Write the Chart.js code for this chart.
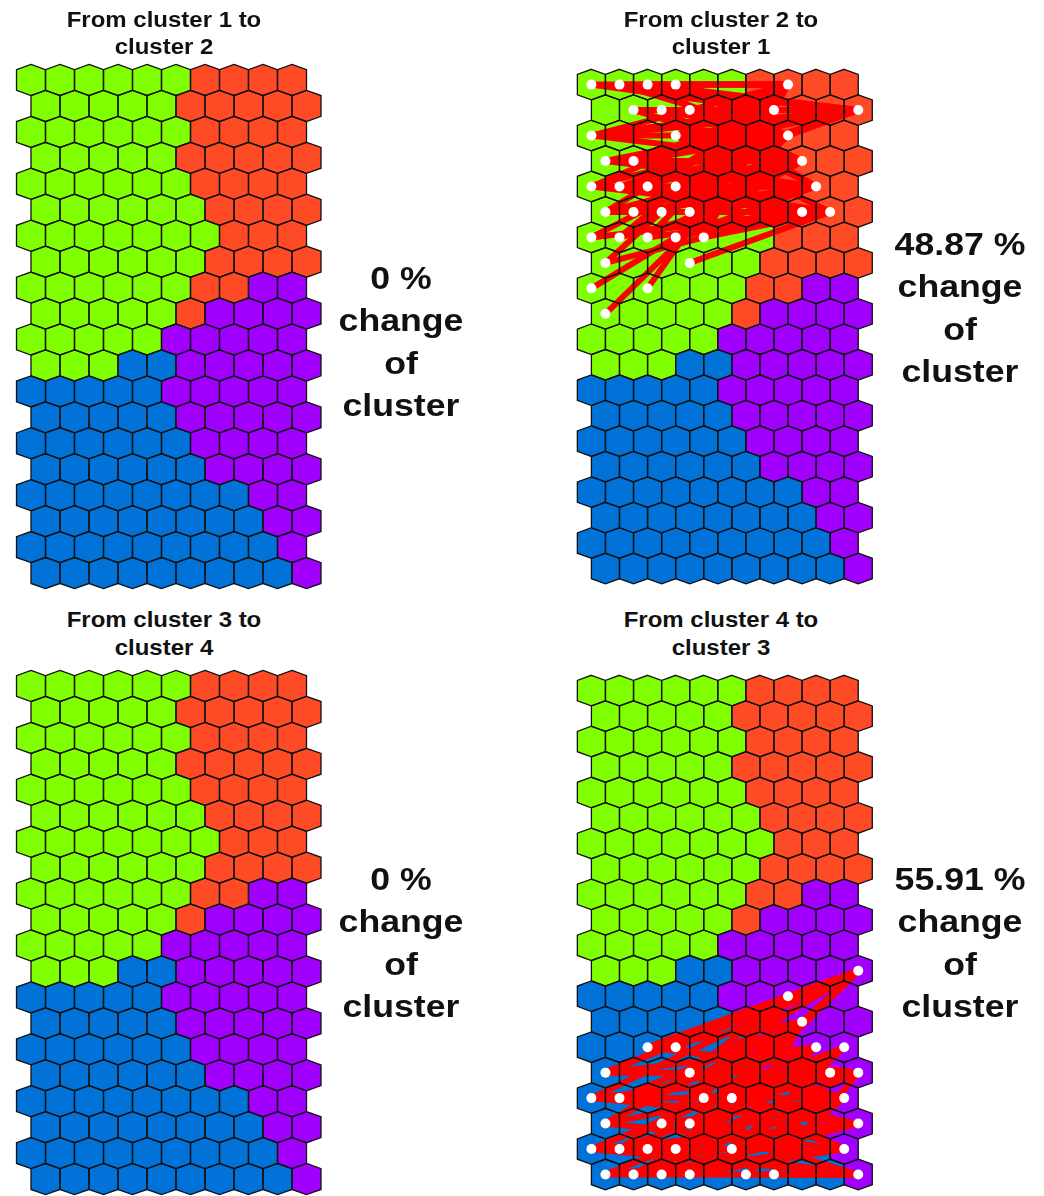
<!DOCTYPE html>
<html>
<head>
<meta charset="utf-8">
<script src="https://cdn.jsdelivr.net/npm/chart.js@4.4.0/dist/chart.umd.min.js"></script>
<style>
  html, body { margin: 0; padding: 0; background: #ffffff; }
  body { width: 1044px; height: 1196px; position: relative; overflow: hidden;
         font-family: "Liberation Sans", Arial, Helvetica, sans-serif; }
  .panel { position: absolute; }
  .txt { position: absolute; width: 400px; text-align: center; font-weight: bold;
         color: #111; white-space: pre; transform-origin: 50% 50%; }
  .title { font-size: 22px; line-height: 27.5px; transform: scaleX(1.09); }
  .side { font-size: 31px; line-height: 42.5px; transform: scaleX(1.15); }
</style>
</head>
<body>
<script>
// ---------------- DATA ----------------
// Cluster of every SOM node, row by row (10 columns x 20 rows, hexagonal, odd rows shifted right)
// G = cluster 1 (green), R = cluster 2 (red), P = cluster 3 (purple), B = cluster 4 (blue)
const clusterRows = [
  "GGGGGGRRRR",
  "GGGGGRRRRR",
  "GGGGGGRRRR",
  "GGGGGRRRRR",
  "GGGGGGRRRR",
  "GGGGGGRRRR",
  "GGGGGGGRRR",
  "GGGGGGRRRR",
  "GGGGGGRRPP",
  "GGGGGRPPPP",
  "GGGGGPPPPP",
  "GGGBBPPPPP",
  "BBBBBPPPPP",
  "BBBBBPPPPP",
  "BBBBBBPPPP",
  "BBBBBBPPPP",
  "BBBBBBBBPP",
  "BBBBBBBBPP",
  "BBBBBBBBBP",
  "BBBBBBBBBP"
];
const clusterColors = { G: "#7FFF00", R: "#FF4A26", P: "#A100FF", B: "#0072D8" };

const panelTitles = [
  "From cluster 1 to\ncluster 2",
  "From cluster 2 to\ncluster 1",
  "From cluster 3 to\ncluster 4",
  "From cluster 4 to\ncluster 3"
];
const changePercent = ["0 %", "48.87 %", "0 %", "55.91 %"];
const changeLabel = "change\nof\ncluster";

// node moves [fromRow, fromCol, toRow, toCol]
const moves1to2 = [];
const moves2to1 = [
  [0,0,0,7],[0,0,1,9],[0,0,1,6],
  [0,1,0,7],[0,1,2,7],[0,1,1,9],
  [0,2,0,7],[0,2,1,9],[0,2,3,7],
  [0,3,0,7],[0,3,1,6],[0,3,2,7],
  [1,1,1,6],[1,1,1,9],[1,1,3,7],
  [1,2,1,9],[1,2,2,7],[1,2,4,8],
  [1,3,1,6],[1,3,4,8],[1,3,3,7],
  [2,0,0,7],[2,0,1,6],[2,0,1,9],[2,0,2,7],[2,0,3,7],
  [2,3,1,9],[2,3,3,7],[2,3,5,8],[2,3,0,7],
  [3,0,2,7],[3,0,3,7],[3,0,4,8],[3,0,1,9],
  [3,1,1,6],[3,1,5,7],[3,1,2,7],[3,1,4,8],
  [4,0,1,6],[4,0,2,7],[4,0,4,8],[4,0,5,7],
  [4,1,3,7],[4,1,5,8],[4,1,1,9],
  [4,2,1,9],[4,2,4,8],[4,2,2,7],
  [4,3,2,7],[4,3,5,8],[4,3,1,6],
  [5,0,1,6],[5,0,3,7],[5,0,5,7],
  [5,1,2,7],[5,1,4,8],[5,1,5,8],
  [5,2,0,7],[5,2,5,8],[5,2,3,7],
  [5,3,1,6],[5,3,3,7],[5,3,4,8],
  [6,0,2,7],[6,0,5,7],
  [6,1,1,6],[6,1,4,8],[6,1,2,7],
  [6,2,3,7],[6,2,5,8],[6,2,1,6],
  [6,3,2,7],[6,3,5,7],[6,3,4,8],
  [6,4,0,7],[6,4,5,8],
  [7,0,1,6],[7,0,5,7],
  [7,3,5,8],
  [8,0,3,7],
  [8,2,1,6],
  [9,0,2,7]
];
const moves3to4 = [];
const moves4to3 = [
  [14,2,11,9],[14,2,13,7],[14,2,15,9],
  [14,3,11,9],[14,3,12,7],[14,3,16,9],
  [15,0,11,9],[15,0,14,8],[15,0,15,9],[15,0,12,7],
  [15,3,12,7],[15,3,16,9],[15,3,18,9],
  [16,0,11,9],[16,0,15,8],[16,0,17,9],
  [16,1,13,7],[16,1,16,9],[16,1,14,8],
  [16,4,12,7],[16,4,18,9],[16,4,15,8],
  [16,5,14,9],[16,5,17,9],[16,5,12,7],
  [17,0,13,7],[17,0,15,9],[17,0,18,9],[17,0,11,9],
  [17,2,14,8],[17,2,16,9],[17,2,12,7],
  [17,3,11,9],[17,3,19,9],[17,3,15,8],
  [18,0,14,9],[18,0,17,9],[18,0,19,9],
  [18,1,15,8],[18,1,18,9],[18,1,13,7],
  [18,2,12,7],[18,2,16,9],[18,2,17,9],
  [18,3,14,8],[18,3,19,9],[18,3,11,9],
  [18,5,13,7],[18,5,17,9],[18,5,14,9],
  [19,0,15,9],[19,0,18,9],[19,0,19,9],
  [19,1,16,9],[19,1,14,9],[19,1,18,9],
  [19,2,17,9],[19,2,15,8],[19,2,13,7],
  [19,3,18,9],[19,3,14,8],[19,3,16,9],
  [19,5,19,9],[19,5,16,9],
  [19,6,19,9],[19,6,15,9]
];
const panelMoves = [moves1to2, moves2to1, moves3to4, moves4to3];

// ---------------- LAYOUT (positions / styles) ----------------
const panelPos = [
  { L: 12,  T: 58,  tx: 164, ty: 5.75,   sx: 401, sy: 257.75 },
  { L: 568, T: 58,  tx: 721, ty: 5.75,   sx: 960, sy: 223.75 },
  { L: 12,  T: 664, tx: 164, ty: 606.25, sx: 401, sy: 858.75 },
  { L: 568, T: 664, tx: 721, ty: 606.25, sx: 960, sy: 858.75 }
];
const CW = 318, CH = 540;         // canvas size
const colPx = 29, rowPx = 25.95;  // pixel size of one grid unit
const x0px = 19, y0px = 22;       // offset of node (0,0) inside the canvas
const xMin = -x0px / colPx, xMax = xMin + CW / colPx;
const yMin = -y0px / rowPx, yMax = yMin + CH / rowPx;

function nodeXY(r, c) { return { x: c + (r % 2) * 0.5, y: r }; }

const hexPlugin = {
  id: 'hexGrid',
  beforeDatasetsDraw(chart) {
    const ctx = chart.ctx, xs = chart.scales.x, ys = chart.scales.y;
    const cells = chart.config.options.plugins.hexGrid.cells;
    ctx.save();
    cells.forEach(cell => {
      hexPath(ctx, xs, ys, cell.x, cell.y);
      ctx.fillStyle = clusterColors[cell.c];
      ctx.fill();
    });
    ctx.restore();
  },
  beforeDatasetDraw(chart, args) {
    if (args.index !== 0) return; // before the white dots: draw node outlines
    const ctx = chart.ctx, xs = chart.scales.x, ys = chart.scales.y;
    const cells = chart.config.options.plugins.hexGrid.cells;
    ctx.save();
    ctx.strokeStyle = "#111111";
    ctx.lineWidth = 1.3;
    ctx.lineJoin = "miter";
    cells.forEach(cell => {
      hexPath(ctx, xs, ys, cell.x, cell.y);
      ctx.stroke();
    });
    ctx.restore();
  }
};
function hexPath(ctx, xs, ys, cx, cy) {
  const pts = [[0, -0.6], [0.5, -0.4], [0.5, 0.4], [0, 0.6], [-0.5, 0.4], [-0.5, -0.4]];
  ctx.beginPath();
  pts.forEach((p, i) => {
    const px = xs.getPixelForValue(cx + p[0]);
    const py = ys.getPixelForValue(cy + p[1]);
    if (i === 0) ctx.moveTo(px, py); else ctx.lineTo(px, py);
  });
  ctx.closePath();
}

panelPos.forEach((pos, pi) => {
  const div = document.createElement('div');
  div.className = 'panel';
  div.style.left = pos.L + 'px';
  div.style.top = pos.T + 'px';
  const cv = document.createElement('canvas');
  cv.width = CW; cv.height = CH;
  cv.style.width = CW + 'px'; cv.style.height = CH + 'px';
  div.appendChild(cv);
  document.body.appendChild(div);

  const cells = [];
  clusterRows.forEach((row, r) => {
    for (let c = 0; c < row.length; c++) {
      const p = nodeXY(r, c);
      cells.push({ x: p.x, y: p.y, c: row[c] });
    }
  });

  const moves = panelMoves[pi];
  const dotMap = new Map();
  const lineSets = moves.map(m => {
    const a = nodeXY(m[0], m[1]), b = nodeXY(m[2], m[3]);
    dotMap.set(m[0] + ',' + m[1], a);
    dotMap.set(m[2] + ',' + m[3], b);
    return {
      type: 'scatter', showLine: true, data: [a, b],
      borderColor: '#FF0000', borderWidth: 6, borderCapStyle: 'round',
      pointRadius: 0, pointHoverRadius: 0, order: 1, clip: false
    };
  });
  const dots = {
    type: 'scatter', data: Array.from(dotMap.values()),
    pointRadius: 5, pointHoverRadius: 5, backgroundColor: '#FFFFFF',
    borderWidth: 0, order: 0, clip: false
  };

  new Chart(cv, {
    type: 'scatter',
    data: { datasets: [dots].concat(lineSets) },
    options: {
      responsive: false, animation: false, events: [],
      layout: { padding: 0 },
      scales: {
        x: { type: 'linear', min: xMin, max: xMax, display: false },
        y: { type: 'linear', min: yMin, max: yMax, reverse: true, display: false }
      },
      plugins: { legend: { display: false }, tooltip: { enabled: false },
                 hexGrid: { cells: cells } }
    },
    plugins: [hexPlugin]
  });

  const t = document.createElement('div');
  t.className = 'txt title';
  t.textContent = panelTitles[pi];
  t.style.left = (pos.tx - 200) + 'px';
  t.style.top = pos.ty + 'px';
  document.body.appendChild(t);

  const s = document.createElement('div');
  s.className = 'txt side';
  s.textContent = changePercent[pi] + "\n" + changeLabel;
  s.style.left = (pos.sx - 200) + 'px';
  s.style.top = pos.sy + 'px';
  document.body.appendChild(s);
});
</script>
</body>
</html>
